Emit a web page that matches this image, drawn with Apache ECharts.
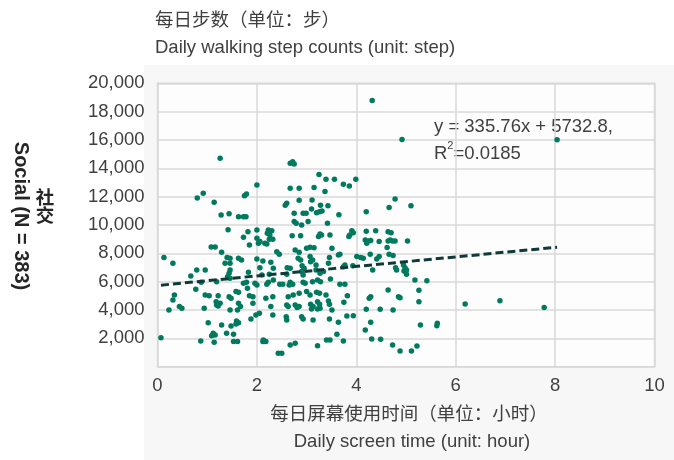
<!DOCTYPE html>
<html>
<head>
<meta charset="utf-8">
<script src="https://cdn.jsdelivr.net/npm/echarts@6/dist/echarts.min.js"></script>
<style>
  html, body { margin: 0; padding: 0; background: #ffffff; }
  #chart { width: 674px; height: 460px; }
</style>
</head>
<body>
<div id="chart"></div>
<script>
// Daily screen time (hours) for each respondent
const screenHours = [
  1.26,0.92,0.80,1.14,1.28,1.44,1.63,1.42,1.08,1.16,
  2.67,2.72,2.75,3.25,3.39,3.56,2.00,1.79,1.75,2.67,
  2.85,3.15,3.37,2.85,3.11,2.60,2.57,3.28,3.43,3.10,
  3.26,3.31,3.20,2.75,2.93,2.99,1.73,1.78,2.75,2.79,
  2.90,3.03,3.42,2.00,1.82,2.23,2.30,2.21,2.26,1.73,
  2.00,2.06,2.03,2.25,2.32,2.20,2.16,1.85,2.71,2.88,
  3.27,3.24,3.30,3.47,3.00,3.07,3.15,3.51,4.92,3.74,
  3.86,3.99,4.78,4.66,5.10,4.20,3.65,3.91,3.94,3.87,
  3.85,4.20,4.39,4.64,4.70,4.18,4.24,4.21,4.29,4.46,
  4.68,4.73,4.78,4.64,5.03,4.62,4.32,8.04,5.18,5.42,
  5.26,5.26,6.19,6.89,7.78,5.29,5.63,5.62,5.22,1.29,
  0.13,0.31,1.40,1.46,1.63,1.69,1.36,1.46,0.79,0.96,
  1.46,1.44,0.67,1.41,1.46,1.19,0.88,0.77,0.34,0.96,
  1.04,1.22,1.44,1.48,1.58,1.63,0.31,1.18,1.26,1.19,
  1.22,1.63,0.44,0.49,0.23,0.94,1.46,1.61,1.67,1.02,
  1.29,1.48,1.59,1.63,1.58,1.12,1.16,1.09,1.39,1.53,
  0.07,0.87,1.14,1.53,1.61,2.77,2.85,2.00,2.12,2.40,
  2.45,2.83,2.88,3.07,3.12,3.08,3.46,2.06,2.28,2.33,
  2.61,2.67,2.91,2.95,3.19,3.19,3.44,1.83,2.10,2.25,
  2.60,2.90,2.93,3.27,3.34,1.73,1.79,1.96,2.00,2.20,
  2.23,2.33,2.46,2.52,2.67,2.72,2.65,2.93,2.97,3.12,
  3.22,3.28,3.48,1.81,1.85,1.92,2.18,2.32,2.63,2.73,
  2.85,3.00,3.07,3.20,3.26,3.39,1.92,2.28,2.60,2.63,
  2.77,2.81,2.85,3.08,3.13,3.10,3.22,3.26,3.27,3.22,
  3.44,3.46,2.05,1.98,2.32,2.59,2.60,2.90,2.93,3.13,
  3.46,1.88,2.13,2.18,2.12,2.67,2.77,3.22,3.40,3.47,
  2.43,2.50,3.67,3.64,4.01,4.09,4.14,4.28,4.46,4.41,
  4.66,4.74,3.77,3.74,3.93,4.33,4.79,4.81,4.95,4.98,
  5.01,4.96,5.01,3.67,3.77,4.64,3.82,4.26,4.29,4.85,
  4.88,3.75,3.51,4.20,4.48,4.74,3.81,3.94,3.64,4.29,
  4.18,3.61,3.74,4.31,4.49,4.73,4.88,5.11
];

// Daily walking step counts for the same respondents
const stepCounts = [
  14710,12240,11910,11610,10710,10800,10590,9670,8450,8450,
  14360,14470,14310,13560,13230,13230,12830,12190,12070,12600,
  12600,12640,12360,11750,11770,11540,11400,11400,11350,11130,
  10940,10990,10870,10830,10830,10830,10590,10590,10240,10120,
  10000,10240,10120,9650,9530,9650,9600,9420,9300,9140,
  9070,8830,8710,8990,8990,8660,8710,8590,9250,9250,
  9370,9180,9300,9300,8360,8430,8400,8360,16040,12880,
  12760,13230,11840,11230,11350,10940,10730,9600,9460,9300,
  9180,9560,9600,9530,9460,8950,8870,8710,8900,8830,
  8950,8870,8870,8870,8870,8420,18780,16010,6120,6070,
  5390,4580,4430,4660,4170,2940,3060,2890,1460,8080,
  7700,7300,7700,7650,7650,7530,7300,7300,6830,6830,
  6830,6590,6400,6350,6240,6000,5960,5460,5060,5060,
  5010,5010,4940,4830,5300,5250,4710,4590,4480,4360,
  4290,4480,4240,4120,4000,4120,4000,4000,4240,3110,
  2940,2870,3230,3110,3010,2360,2240,2190,2360,2290,
  2050,1810,1720,1770,1770,8240,8080,7600,7460,8120,
  7940,7650,7530,7770,7530,7410,7700,6990,7370,6950,
  6990,6950,7130,6950,7180,6830,7300,6660,6470,6520,
  6520,6710,6470,6590,6710,5890,5960,5890,5770,5820,
  5960,6120,5820,5820,5960,5820,5770,5960,5890,6000,
  6120,6000,6190,5540,5010,4940,4830,4940,4940,5060,
  5180,5300,5060,5250,5180,5060,4480,4240,4360,4240,
  4360,4170,4240,4410,4240,4070,4590,4410,4120,4070,
  4640,4410,3770,3650,3650,3530,3300,3530,3370,3300,
  3370,3370,1890,1770,1770,1530,1650,1480,1890,1890,
  950,950,7940,7890,7770,7700,7650,7940,7770,7600,
  7940,7840,7180,7060,7130,6830,6990,6830,7180,6990,
  6830,6760,6520,5820,5820,5420,5010,4830,4940,4940,
  4870,4550,4000,4050,4050,4000,3580,3600,3130,3130,
  2590,2290,1810,1960,1930,1530,1110,1110
];

// Linear trendline reported for the group
const trendSlope = 335.76;
const trendIntercept = 5732.8;
const trendLabel = ['y = 335.76x + 5732.8,', 'R{sup|2}=0.0185'];

// Axis ranges and tick spacing
const xRange = [0, 10];
const xStep = 2;
const yRange = [0, 20000];
const yStep = 2000;

// Titles
const yTitleZh = '每日步数（单位：步）';
const yTitleEn = 'Daily walking step counts (unit: step)';
const xTitleZh = '每日屏幕使用时间（单位：小时）';
const xTitleEn = 'Daily screen time (unit: hour)';
const groupZh = '社\n交';
const groupEn = 'Social (N = 383)';

const FONT = "'Liberation Sans', Arial, 'Noto Sans CJK SC', sans-serif";
const TEXT = '#404040';
const FS = 18.5;

const points = screenHours.map((x, i) => [x, stepCounts[i]]);
const xMinData = Math.min(...screenHours);
const xMaxData = Math.max(...screenHours);
const trendPoints = [
  [xMinData, trendSlope * xMinData + trendIntercept],
  [xMaxData, trendSlope * xMaxData + trendIntercept]
];

const chart = echarts.init(document.getElementById('chart'), null, { renderer: 'canvas' });

chart.setOption({
  animation: false,
  textStyle: { fontFamily: FONT },
  grid: {
    left: 157.5, right: 19.5, top: 83.3, bottom: 93.3,
    show: true,
    backgroundColor: '#fdfdfd',
    borderColor: '#d9d9d9',
    borderWidth: 1.5
  },
  xAxis: {
    type: 'value',
    min: xRange[0], max: xRange[1], interval: xStep,
    axisLine: { show: false },
    axisTick: { show: false },
    splitLine: { show: true, lineStyle: { color: '#d9d9d9', width: 1.5 } },
    axisLabel: { color: TEXT, fontSize: FS, fontFamily: FONT, margin: 10 }
  },
  yAxis: {
    type: 'value',
    min: yRange[0], max: yRange[1], interval: yStep,
    axisLine: { show: false },
    axisTick: { show: false },
    splitLine: { show: true, lineStyle: { color: '#d9d9d9', width: 1.5 } },
    axisLabel: {
      color: TEXT, fontSize: FS, fontFamily: FONT, margin: 13,
      formatter: v => (v === 0 ? '' : v.toLocaleString('en-US'))
    }
  },
  series: [
    {
      type: 'scatter',
      data: points,
      symbol: 'circle',
      symbolSize: 5.5,
      itemStyle: { color: '#007a5e', opacity: 1 },
      z: 2
    },
    {
      type: 'line',
      data: trendPoints,
      symbol: 'none',
      lineStyle: { color: '#10393a', width: 3, type: [8, 4] },
      z: 3
    }
  ],
  graphic: [
    {
      type: 'rect', z: -10, silent: true,
      shape: { x: 144, y: 65, width: 530, height: 395 },
      style: { fill: '#f7f7f7' }
    },
    {
      type: 'text', left: 155, top: 12,
      style: { text: yTitleZh, font: `${FS}px ${FONT}`, fill: TEXT }
    },
    {
      type: 'text', left: 155, top: 39,
      style: { text: yTitleEn, font: `${FS}px ${FONT}`, fill: TEXT }
    },
    {
      type: 'text', x: 409, y: 406,
      style: { text: xTitleZh, font: `${FS}px ${FONT}`, fill: TEXT, align: 'center', verticalAlign: 'top' }
    },
    {
      type: 'text', x: 412, y: 433,
      style: { text: xTitleEn, font: `${FS}px ${FONT}`, fill: TEXT, align: 'center', verticalAlign: 'top' }
    },
    {
      type: 'text', x: 21, y: 216, rotation: -Math.PI / 2,
      style: { text: groupEn, font: `bold 20px ${FONT}`, fill: '#262626', align: 'center', verticalAlign: 'middle' }
    },
    {
      type: 'text', x: 45, y: 208,
      style: { text: groupZh, font: `bold ${FS}px ${FONT}`, fill: '#262626', align: 'center', verticalAlign: 'middle', lineHeight: 18.5 }
    },
    {
      type: 'text', x: 434, y: 113,
      style: {
        text: trendLabel[0] + '\n' + trendLabel[1],
        font: `${FS}px ${FONT}`, fill: TEXT, lineHeight: 27,
        rich: {
          sup: { fontSize: 11, verticalAlign: 'top', lineHeight: 27, padding: [0, 0, 10, 0], fill: TEXT, fontFamily: FONT }
        }
      }
    }
  ]
});
</script>
</body>
</html>
